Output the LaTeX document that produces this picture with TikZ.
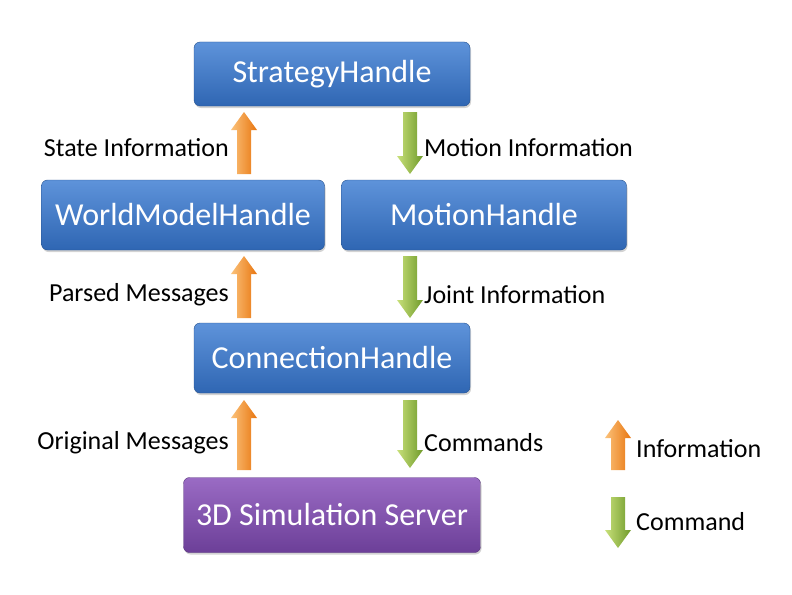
\documentclass[tikz,border=0pt]{standalone}
\usepackage{fontspec}
\setmainfont{Carlito}
\usetikzlibrary{shadows}
\definecolor{bluetop}{HTML}{5E93DA}
\definecolor{bluebot}{HTML}{2F66B3}
\definecolor{purtop}{HTML}{9A6BC4}
\definecolor{purbot}{HTML}{6C3F98}
\definecolor{orL}{HTML}{FBC27A}
\definecolor{orR}{HTML}{E8750F}
\definecolor{grL}{HTML}{C8E07A}
\definecolor{grR}{HTML}{6F9A2A}
\newcommand{\myUpArr}[3]{% x, ytop, ybottom
  \shade[left color=orL,right color=orR] (#1-7,#3) -- (#1-7,#2+18) -- (#1-13,#2+18) -- (#1,#2) -- (#1+13,#2+18) -- (#1+7,#2+18) -- (#1+7,#3) -- cycle;}
\newcommand{\myDownArr}[3]{% x, ytop, ybottom
  \shade[left color=grL,right color=grR] (#1-7,#2) -- (#1-7,#3-18) -- (#1-13,#3-18) -- (#1,#3) -- (#1+13,#3-18) -- (#1+7,#3-18) -- (#1+7,#2) -- cycle;}
\begin{document}
\begin{tikzpicture}[x=1pt,y=-1pt,
  box/.style={rounded corners=6pt,top color=bluetop,bottom color=bluebot,draw=bluebot!80!black,
    drop shadow={opacity=0.35,shadow xshift=1pt,shadow yshift=-2pt},
    text=white,font=\fontsize{32}{36}\selectfont,inner sep=0pt},
  lab/.style={font=\fontsize{26}{30}\selectfont,inner sep=0pt}]
\useasboundingbox (0,0) rectangle (792,594);
\node[box,minimum width=276pt,minimum height=64pt] (sh) at (332,74) {StrategyHandle};
\node[box,minimum width=283pt,minimum height=70pt] (wm) at (183,215) {WorldModelHandle};
\node[box,minimum width=285pt,minimum height=70pt] (mh) at (484,215) {MotionHandle};
\node[box,minimum width=276pt,minimum height=70pt] (ch) at (332,358) {ConnectionHandle};
\node[box,minimum width=297pt,minimum height=75pt,top color=purtop,bottom color=purbot,draw=purbot!80!black] (ss) at (332,515) {3D Simulation Server};

\myUpArr{244}{112}{174}
\myDownArr{410}{112}{174}
\myUpArr{244}{256}{318}
\myDownArr{410}{256}{318}
\myUpArr{244}{400}{470}
\myDownArr{410}{400}{468}
\myUpArr{618}{420}{470}
\myDownArr{618}{497}{548}

\node[lab,anchor=east] (l1) at (229,148) {State Information};
\node[lab,anchor=west] (l2) at (424,148) {Motion Information};
\node[lab,anchor=east] (l3) at (229,295) {Parsed Messages};
\node[lab,anchor=west] (l4) at (424,295) {Joint Information};
\node[lab,anchor=east] (l5) at (229,443) {Original Messages};
\node[lab,anchor=west] (l6) at (424,443) {Commands};
\node[lab,anchor=west] (l7) at (636,449) {Information};
\node[lab,anchor=west] (l8) at (636,522) {Command};
\end{tikzpicture}
\end{document}
